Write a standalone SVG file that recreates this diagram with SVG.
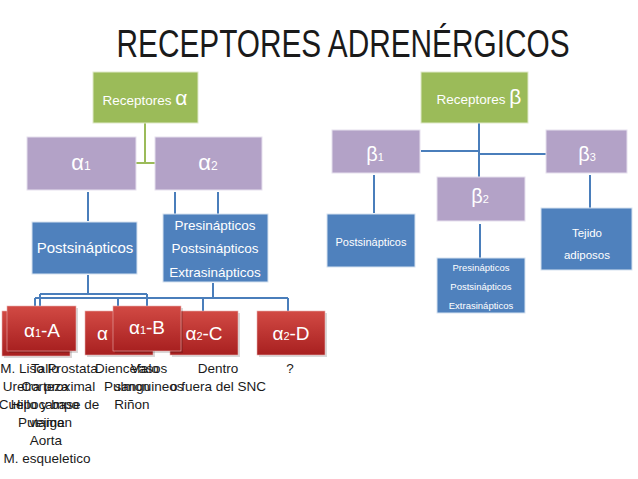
<svg xmlns="http://www.w3.org/2000/svg" width="638" height="479" viewBox="0 0 638 479">
<defs>
<linearGradient id="red" x1="0" y1="0" x2="0" y2="1">
<stop offset="0" stop-color="#d24a44"/>
<stop offset="1" stop-color="#a82020"/>
</linearGradient>
<style>
text{font-family:"Liberation Sans",Arial,sans-serif}
.green{fill:#9bbb59;stroke:#dfe9c9;stroke-width:1}
.purple{fill:#b3a2c7;stroke:#e6e0ee;stroke-width:1}
.blue{fill:#4f81bd;stroke:#d6e2f0;stroke-width:1}
.red{fill:url(#red);stroke:#e7b0ae;stroke-width:0.6}
.shadow{fill:#000;opacity:0.15}
.w{fill:#fff;text-anchor:middle}
.b{fill:#1a1a1a;text-anchor:middle;font-size:13.5px}
.c{fill:none;stroke:#4a7ebb;stroke-width:2}
.cg{fill:none;stroke:#9bbb59;stroke-width:2}
</style>
</defs>
<rect width="638" height="479" fill="#fff"/>
<text x="343" y="57" font-size="38" fill="#1a1a1a" text-anchor="middle" textLength="453" lengthAdjust="spacingAndGlyphs">RECEPTORES ADRENÉRGICOS</text>

<g id="connectors">
<path class="cg" d="M145 123 V163 M136 163 H155"/>
<path class="c" d="M88 192 V221 M175 192 V214 M218 192 V214"/>
<path class="c" d="M88 275 V294 M40 294 H147 M40 294 V306 M147 294 V306"/>
<path class="c" d="M213 283 V298 M35 298 H288 M35 298 V306 M118 298 V306 M203 298 V311 M288 298 V311"/>
<path class="c" d="M479 123 V177 M421 151 H479 M480 154 H546"/>
<path class="c" d="M374 175 V213 M480 224 V258 M590 175 V208"/>
</g>

<g id="rec-alpha">
<rect class="green" x="93" y="72" width="105" height="51"/>
<text x="145" y="105" class="w" font-size="13.5">Receptores <tspan font-size="21">α</tspan></text>
</g>
<g id="alpha1">
<rect class="purple" x="27" y="137" width="109" height="53"/>
<text x="81" y="170" class="w" font-size="22">α<tspan font-size="12">1</tspan></text>
</g>
<g id="alpha2">
<rect class="purple" x="155" y="137" width="107" height="53"/>
<text x="208" y="170" class="w" font-size="22">α<tspan font-size="12">2</tspan></text>
</g>
<g id="post-alpha1">
<rect class="blue" x="32" y="222" width="105" height="52"/>
<text x="85" y="253" class="w" font-size="15">Postsinápticos</text>
</g>
<g id="pre-alpha2">
<rect class="blue" x="163" y="214" width="105" height="68"/>
<text x="215" y="230" class="w" font-size="13.5">Presinápticos</text>
<text x="215" y="253" class="w" font-size="13.5">Postsinápticos</text>
<text x="215" y="277" class="w" font-size="13.5">Extrasinápticos</text>
</g>

<g id="rec-beta">
<rect class="green" x="421" y="72" width="107" height="51"/>
<text x="479" y="104" class="w" font-size="13.5">Receptores <tspan font-size="21">β</tspan></text>
</g>
<g id="beta1">
<rect class="purple" x="332" y="130" width="88" height="43"/>
<text x="375" y="161" class="w" font-size="20">β<tspan font-size="11">1</tspan></text>
</g>
<g id="beta3">
<rect class="purple" x="546" y="130" width="81" height="43"/>
<text x="587" y="161" class="w" font-size="20">β<tspan font-size="11">3</tspan></text>
</g>
<g id="beta2">
<rect class="purple" x="437" y="177" width="88" height="44"/>
<text x="480" y="203" class="w" font-size="20">β<tspan font-size="11">2</tspan></text>
</g>
<g id="post-beta1">
<rect class="blue" x="327" y="214" width="88" height="53"/>
<text x="371" y="246" class="w" font-size="11">Postsinápticos</text>
</g>
<g id="pre-beta2">
<rect class="blue" x="437" y="258" width="88" height="55"/>
<text x="481" y="271" class="w" font-size="9.5">Presinápticos</text>
<text x="481" y="290" class="w" font-size="9.5">Postsinápticos</text>
<text x="481" y="309" class="w" font-size="9.5">Extrasinápticos</text>
</g>
<g id="tejido">
<rect class="blue" x="541" y="208" width="91" height="62"/>
<text x="587" y="237" class="w" font-size="11.5">Tejido</text>
<text x="587" y="259" class="w" font-size="11.5">adiposos</text>
</g>

<g id="alpha1A">
<rect class="shadow" x="4" y="313" width="68" height="45"/>
<rect class="red" x="2" y="311" width="68" height="45"/>
<rect class="shadow" x="9" y="308" width="69" height="45"/>
<rect class="red" x="7" y="306" width="69" height="45"/>
<text x="42" y="337" class="w" font-size="19">α<tspan font-size="11">1</tspan>-A</text>
</g>
<g id="alpha1D">
<rect class="shadow" x="87" y="313" width="68" height="44"/>
<rect class="red" x="85" y="311" width="68" height="44"/>
<text x="97" y="340" fill="#fff" font-size="19">α</text>
</g>
<g id="alpha2C">
<rect class="shadow" x="172" y="313" width="68" height="44"/>
<rect class="red" x="170" y="311" width="68" height="44"/>
<text x="204" y="340" class="w" font-size="19">α<tspan font-size="11">2</tspan>-C</text>
</g>
<g id="alpha1B">
<rect class="shadow" x="115" y="308" width="68" height="45"/>
<rect class="red" x="113" y="306" width="68" height="45"/>
<text x="147" y="334" class="w" font-size="19">α<tspan font-size="11">1</tspan>-B</text>
</g>
<g id="alpha2D">
<rect class="shadow" x="259" y="313" width="68" height="44"/>
<rect class="red" x="257" y="311" width="68" height="44"/>
<text x="291" y="340" class="w" font-size="19">α<tspan font-size="11">2</tspan>-D</text>
</g>

<g id="notes">
<text class="b" x="49" y="373">M. Liso Prostata</text>
<text class="b" x="49" y="391">Uretra proximal</text>
<text class="b" x="49" y="409">Cuello y base de</text>
<text class="b" x="47" y="427">vejiga</text>
<text class="b" x="46" y="445">Aorta</text>
<text class="b" x="47" y="463">M. esqueletico</text>
<text class="b" x="45" y="373">Tallo</text>
<text class="b" x="45" y="391">Corteza</text>
<text class="b" x="45" y="409">Hipocampo</text>
<text class="b" x="45" y="427">Putamen</text>
<text class="b" x="127" y="373">Diencefalo</text>
<text class="b" x="127" y="391">Pulmon</text>
<text class="b" x="132" y="409">Riñon</text>
<text class="b" x="149" y="373">Vasos</text>
<text class="b" x="149" y="391">sanguineos</text>
<text class="b" x="218" y="373">Dentro</text>
<text class="b" x="218" y="391">o fuera del SNC</text>
<text class="b" x="290" y="373">?</text>
</g>
</svg>
